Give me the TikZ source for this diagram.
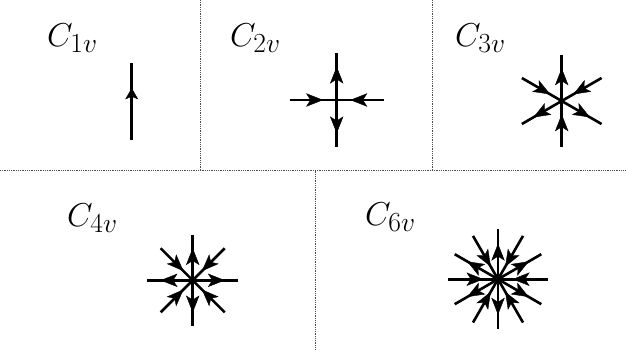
\documentclass[tikz,border=0pt]{standalone}
\usetikzlibrary{calc}
\tikzset{
  sep/.style={line width=0.9pt, dash pattern=on 0.9pt off 0.9pt, black!70},
  arm/.style={line width=2.6pt, line cap=butt},
  head/.style={fill=black, draw=black, line width=0.4pt, line join=miter},
  lab/.style={anchor=base west, inner sep=0pt}
}
\newcommand{\biglab}[1]{\scalebox{1.33}{\Huge$#1$}}
% head with tip at fraction #3 from #1 to #2; length #4, half width #5, inset #6
\newcommand{\headat}[6]{%
  \coordinate (T) at ($(#1)!#3!(#2)$);
  \coordinate (B) at ($(T)!#4!(#1)$);
  \coordinate (I) at ($(T)!#4-#6!(#1)$);
  \fill[head] (T) -- ($(B)!#5!90:(T)$) -- (I) -- ($(B)!#5!-90:(T)$) -- cycle;}
\newcommand{\armarrow}[2]{%
  \draw[arm] (#1) -- (#2);
  \headat{#1}{#2}{0.7}{16pt}{6.3pt}{4pt}}
\begin{document}
\begin{tikzpicture}[x=1pt,y=-1pt]
  \useasboundingbox (0,0) rectangle (626,350);
  % separators
  \coordinate (s1t) at (200,0);   \coordinate (s1b) at (200,170.5);
  \coordinate (s2t) at (432,0);   \coordinate (s2b) at (432,170.5);
  \coordinate (hl) at (0,170.5);  \coordinate (hr) at (626,170.5);
  \coordinate (s3t) at (315.5,170.5); \coordinate (s3b) at (315.5,350);
  \draw[sep] (s1t) -- (s1b);
  \draw[sep] (s2t) -- (s2b);
  \draw[sep] (hl) -- (hr);
  \draw[sep] (s3t) -- (s3b);
  % labels
  \node[lab] (l1) at (47,46.5) {\biglab{C_{1v}}};
  \node[lab] (l2) at (230,46.5) {\biglab{C_{2v}}};
  \node[lab] (l3) at (455,46.5) {\biglab{C_{3v}}};
  \node[lab] (l4) at (67,226) {\biglab{C_{4v}}};
  \node[lab] (l6) at (365,225) {\biglab{C_{6v}}};
  % C1v
  \coordinate (a1b) at (131.7,140);
  \coordinate (a1t) at (131.7,63);
  \draw[arm,line width=3pt] (a1b) -- (a1t);
  \headat{a1b}{a1t}{0.67}{10.5pt}{6pt}{2.5pt}
  % C2v
  \coordinate (c2) at (336.7,100);
  \foreach \a in {90,270} {\coordinate (e) at ($(c2)+(\a:47pt)$); \armarrow{c2}{e}}
  \foreach \a in {0,180} {\coordinate (e) at ($(c2)+(\a:47pt)$); \armarrow{e}{c2}}
  % C3v
  \coordinate (c3) at (561.7,101);
  \foreach \a in {90,210,330} {\coordinate (e) at ($(c3)+(\a:46pt)$); \armarrow{c3}{e}}
  \foreach \a in {270,150,30} {\coordinate (e) at ($(c3)+(\a:46pt)$); \armarrow{e}{c3}}
  % C4v
  \coordinate (c4) at (192.7,280.3);
  \foreach \a in {0,90,180,270} {\coordinate (e) at ($(c4)+(\a:45.3pt)$); \armarrow{c4}{e}}
  \foreach \a in {45,135,225,315} {\coordinate (e) at ($(c4)+(\a:45.3pt)$); \armarrow{e}{c4}}
  % C6v
  \coordinate (c6) at (498,279.2);
  \foreach \a in {90,270,30,150,210,330} {\coordinate (e) at ($(c6)+(\a:50pt)$); \armarrow{c6}{e}}
  \foreach \a in {0,180,60,120,240,300} {\coordinate (e) at ($(c6)+(\a:50pt)$); \armarrow{e}{c6}}
\end{tikzpicture}
\end{document}
